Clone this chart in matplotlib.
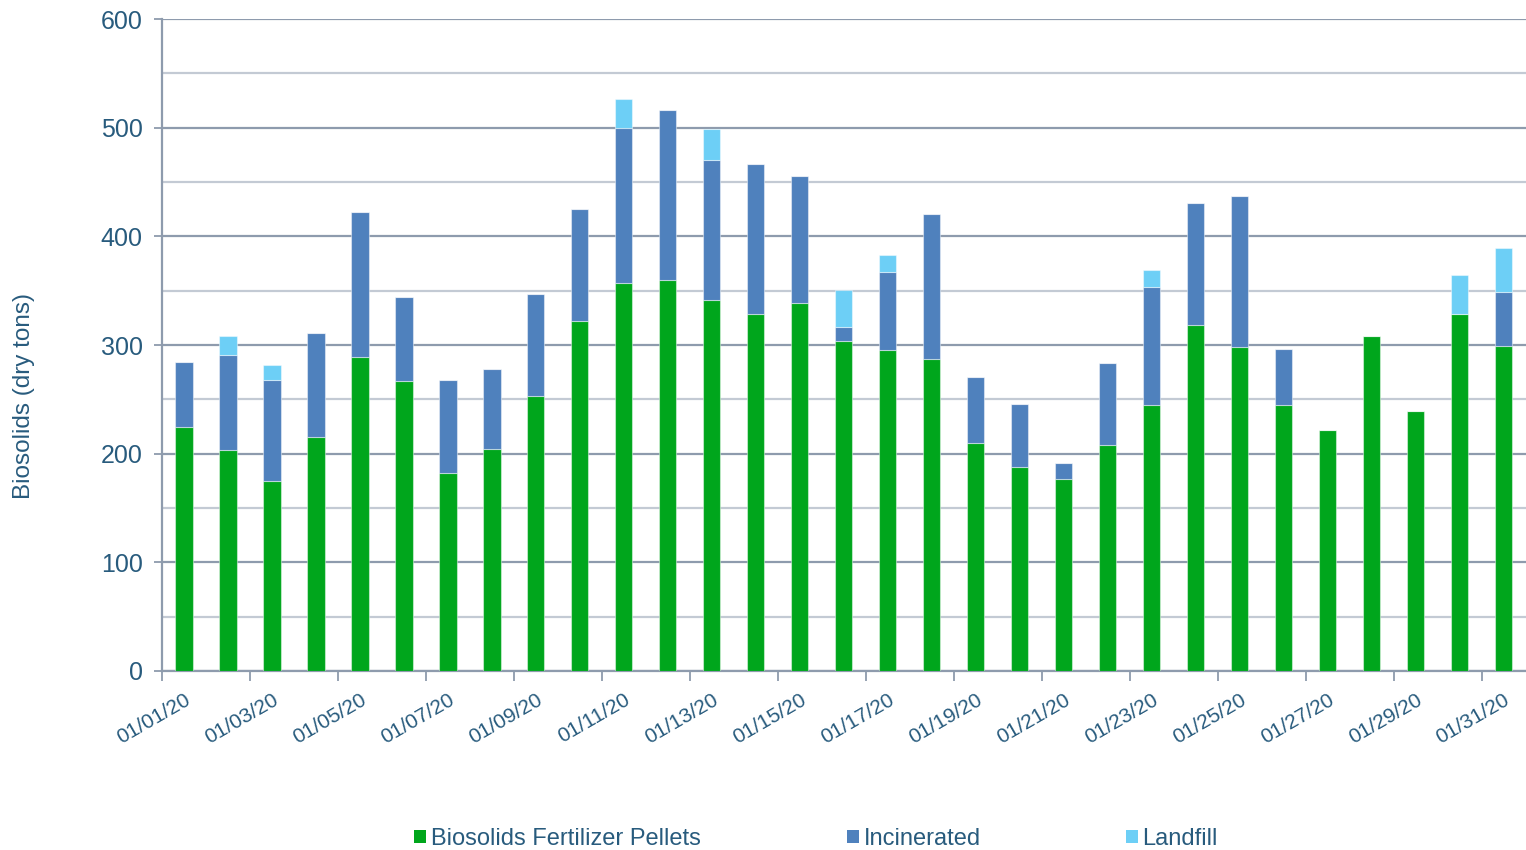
import matplotlib
matplotlib.use("Agg")
import matplotlib.pyplot as plt
from matplotlib.patches import Patch
import numpy as np

plt.rcParams['font.family'] = ['Liberation Sans', 'DejaVu Sans']

dates = ["01/%02d/20" % d for d in range(1, 32)]
pellets = [225, 203, 175, 215, 289, 267, 182, 204, 253, 322,
           357, 360, 341, 329, 339, 304, 295, 287, 210, 188,
           177, 208, 245, 318, 298, 245, 222, 308, 239, 329, 299]
incinerated = [59, 88, 93, 96, 133, 77, 86, 74, 94, 103,
               143, 156, 129, 138, 117, 13, 72, 134, 61, 58,
               14, 75, 108, 113, 139, 51, 0, 0, 0, 0, 50]
landfill = [0, 17, 14, 0, 0, 0, 0, 0, 0, 0,
            26, 0, 29, 0, 0, 34, 16, 0, 0, 0,
            0, 0, 16, 0, 0, 0, 0, 0, 0, 35, 40]
series_names = ["Biosolids Fertilizer Pellets", "Incinerated", "Landfill"]
colors = ["#00A61C", "#4F81BD", "#6DCFF6"]

text_color = "#285B7D"
major_grid = "#8E9BAD"
minor_grid = "#C3CAD4"

fig = plt.figure(figsize=(15.26, 8.5), dpi=100)
ax = fig.add_axes([0.1062, 0.2106, 0.8935, 0.767])

x = np.arange(len(dates))
p = np.array(pellets, dtype=float)
inc = np.array(incinerated, dtype=float)
lf = np.array(landfill, dtype=float)
w = 0.39
ek = dict(edgecolor=(1, 1, 1, 0.45), linewidth=0.8, zorder=3)
ax.bar(x, p, w, color=colors[0], **ek)
ax.bar(x, inc, w, bottom=p, color=colors[1], **ek)
ax.bar(x, lf, w, bottom=p + inc, color=colors[2], **ek)

ax.set_xlim(-0.5, len(dates) - 0.5)
ax.set_ylim(0, 600)

# y axis
ax.set_yticks(np.arange(0, 601, 100))
ax.set_yticks(np.arange(50, 600, 100), minor=True)
ax.yaxis.grid(True, which='major', color=major_grid, linewidth=1.6, zorder=0)
ax.yaxis.grid(True, which='minor', color=minor_grid, linewidth=1.6, zorder=0)
ax.tick_params(axis='y', which='major', length=6, width=1.3, color=major_grid,
               labelsize=18, labelcolor=text_color, pad=8)
ax.tick_params(axis='y', which='minor', length=0)
ax.set_axisbelow(True)

# x axis
ax.set_xticks(np.arange(-0.5, len(dates), 2))
ax.set_xticklabels([])
ax.set_xticks(x[::2], minor=True)
ax.set_xticklabels([dates[i] for i in x[::2]], minor=True, rotation=30,
                   ha='right', va='top', rotation_mode='anchor')
ax.tick_params(axis='x', which='major', length=7, width=1.3, color=major_grid)
ax.tick_params(axis='x', which='minor', length=0, pad=14, labelsize=15,
               labelcolor=text_color)

for s in ['top', 'right']:
    ax.spines[s].set_visible(False)
for s in ['left', 'bottom']:
    ax.spines[s].set_color(major_grid)
    ax.spines[s].set_linewidth(1.6)

ax.set_ylabel("Biosolids (dry tons)", fontsize=17.5, color=text_color)
ax.yaxis.set_label_coords(-0.0931, 0.422)

# legend: three entries placed individually
leg_x = [414, 847, 1126]
for name, c, lx in zip(series_names, colors, leg_x):
    fig.legend(handles=[Patch(facecolor=c, edgecolor='none')], labels=[name],
               loc='center left', bbox_to_anchor=(lx / 1526, 1 - 839 / 850),
               frameon=False, fontsize=17, labelcolor=text_color,
               handlelength=0.5, handleheight=0.5, handletextpad=0.2,
               borderpad=0, borderaxespad=0)

fig.savefig("out.png", dpi=100)
